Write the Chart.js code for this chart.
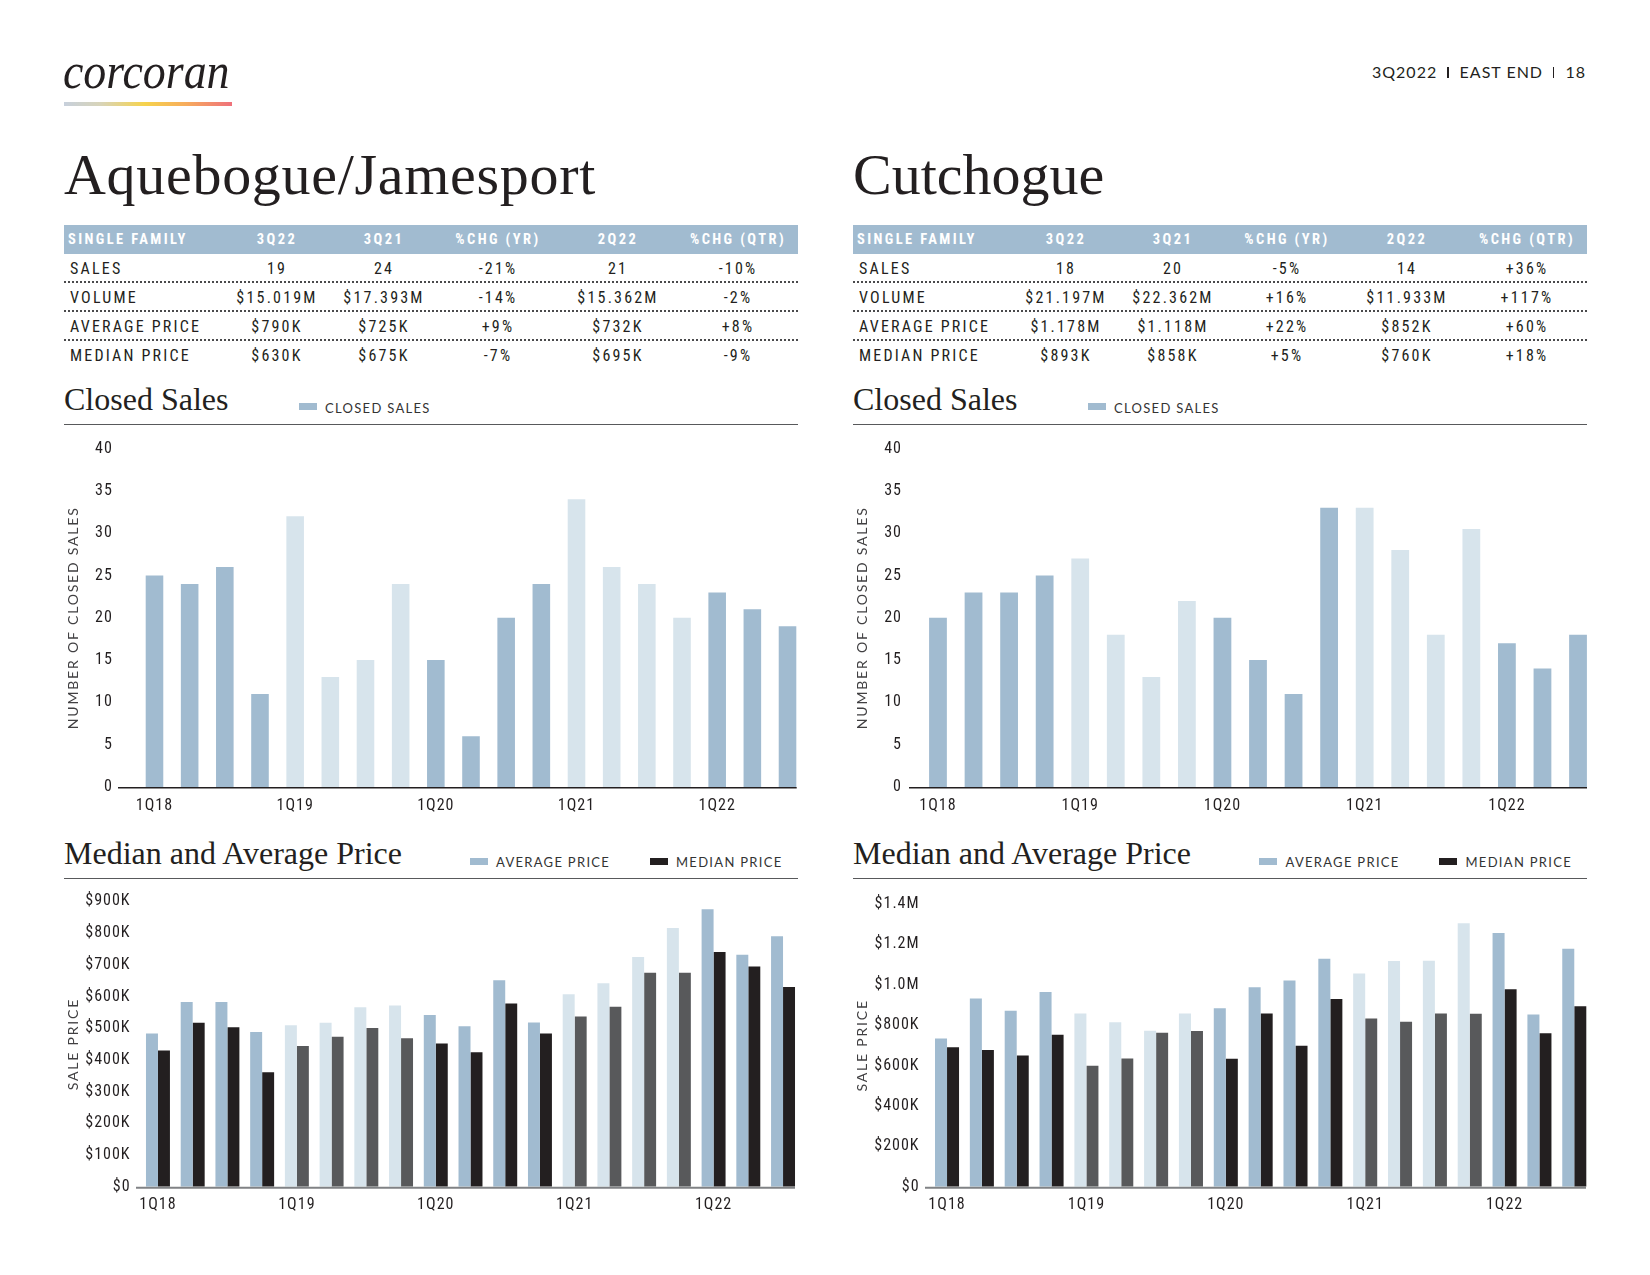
<!DOCTYPE html>
<html>
<head>
<meta charset="utf-8">
<script src="https://cdn.jsdelivr.net/npm/chart.js@4.4.1/dist/chart.umd.min.js"></script>
<style>
html,body{margin:0;padding:0;background:#fff;}
body{width:1650px;height:1275px;position:relative;overflow:hidden;color:#231f20;font-family:'Roboto Condensed','Liberation Sans Narrow','Liberation Sans',sans-serif;}
.abs{position:absolute;white-space:nowrap;}
.serif{font-family:'Liberation Serif',serif;line-height:1;}
.logo{left:63px;top:45.6px;font-size:51px;font-style:italic;transform:scaleX(0.9);transform-origin:0 0;}
.grad{left:64px;top:102px;width:168px;height:4px;background:linear-gradient(to right,#c7d0dc 0%,#d8d4b8 22%,#f6d34c 48%,#f7ad5c 72%,#ef717b 100%);}
.hdr{right:64px;top:64px;font-family:Lato,sans-serif;font-size:16px;line-height:1;letter-spacing:1px;}
.sep{display:inline-block;width:1.4px;height:11.5px;background:#231f20;margin:0 11px 0 10px;vertical-align:baseline;}
.title{font-size:58px;top:146.4px;}
.sec{font-size:32px;}
.tbl{top:225px;width:734px;}
.row{display:grid;grid-template-columns:159.5px 107px 107px 121px 119px 121px;height:29px;box-sizing:border-box;}
.row div{text-align:center;}
.row div:first-child{text-align:left;}
.head{background:#a1bbd0;color:#fff;font-weight:bold;font-size:14.5px;letter-spacing:2.4px;line-height:29px;}
.head div:first-child{padding-left:4px;}
.body{font-size:16px;letter-spacing:2.2px;line-height:27px;padding-top:1px;border-bottom:2px dotted #4a4a4c;}
.body.last{border-bottom:none;}
.body div:first-child{padding-left:6px;}
.rule{height:1.5px;background:#58595b;width:734px;}
.sw{height:6.5px;width:18px;}
.leg{font-family:Lato,sans-serif;font-size:13px;line-height:1;letter-spacing:1.3px;color:#333;}
canvas{position:absolute;}
</style>
</head>
<body>
<div class="abs serif logo">corcoran</div>
<div class="abs grad"></div>
<div class="abs hdr">3Q2022<span class="sep"></span>EAST END<span class="sep"></span>18</div>

<div class="abs serif title" style="left:64px;letter-spacing:0.7px">Aquebogue/Jamesport</div>
<div class="abs serif title" style="left:853px">Cutchogue</div>

<div class="abs tbl" id="tblL" style="left:64px"></div>
<div class="abs tbl" id="tblR" style="left:853px"></div>

<!-- Closed sales headers -->
<div class="abs serif sec" style="left:64px;top:383.2px">Closed Sales</div>
<div class="abs sw" style="left:299px;top:403px;background:#a1bbd0"></div>
<div class="abs leg" style="left:325px;top:401.5px">CLOSED SALES</div>
<div class="abs rule" style="left:64px;top:423.5px"></div>

<div class="abs serif sec" style="left:853px;top:383.2px">Closed Sales</div>
<div class="abs sw" style="left:1088px;top:403px;background:#a1bbd0"></div>
<div class="abs leg" style="left:1114px;top:401.5px">CLOSED SALES</div>
<div class="abs rule" style="left:853px;top:423.5px"></div>

<!-- Price headers -->
<div class="abs serif sec" style="left:64px;top:837.2px">Median and Average Price</div>
<div class="abs sw" style="left:469.5px;top:858px;background:#a1bbd0"></div>
<div class="abs leg" style="left:496px;top:855.6px">AVERAGE PRICE</div>
<div class="abs sw" style="left:649.5px;top:858px;background:#231f20"></div>
<div class="abs leg" style="left:676px;top:855.6px">MEDIAN PRICE</div>
<div class="abs rule" style="left:64px;top:877.5px"></div>

<div class="abs serif sec" style="left:853px;top:837.2px">Median and Average Price</div>
<div class="abs sw" style="left:1259px;top:858px;background:#a1bbd0"></div>
<div class="abs leg" style="left:1285.5px;top:855.6px">AVERAGE PRICE</div>
<div class="abs sw" style="left:1439px;top:858px;background:#231f20"></div>
<div class="abs leg" style="left:1465.5px;top:855.6px">MEDIAN PRICE</div>
<div class="abs rule" style="left:853px;top:877.5px"></div>

<canvas id="closedL" width="745" height="390" style="left:64px;top:430px"></canvas>
<canvas id="closedR" width="745" height="390" style="left:853px;top:430px"></canvas>
<canvas id="priceL" width="745" height="345" style="left:64px;top:880px"></canvas>
<canvas id="priceR" width="745" height="345" style="left:853px;top:880px"></canvas>

<script>
// ---------- DATA ----------
const tableCols = ['SINGLE FAMILY', '3Q22', '3Q21', '%CHG (YR)', '2Q22', '%CHG (QTR)'];
const rowLabels = ['SALES', 'VOLUME', 'AVERAGE PRICE', 'MEDIAN PRICE'];
const aqSales  = ['19', '24', '-21%', '21', '-10%'];
const aqVolume = ['$15.019M', '$17.393M', '-14%', '$15.362M', '-2%'];
const aqAvgRow = ['$790K', '$725K', '+9%', '$732K', '+8%'];
const aqMedRow = ['$630K', '$675K', '-7%', '$695K', '-9%'];
const cuSales  = ['18', '20', '-5%', '14', '+36%'];
const cuVolume = ['$21.197M', '$22.362M', '+16%', '$11.933M', '+117%'];
const cuAvgRow = ['$1.178M', '$1.118M', '+22%', '$852K', '+60%'];
const cuMedRow = ['$893K', '$858K', '+5%', '$760K', '+18%'];

const quarters = ['1Q18','2Q18','3Q18','4Q18','1Q19','2Q19','3Q19','4Q19','1Q20','2Q20','3Q20','4Q20','1Q21','2Q21','3Q21','4Q21','1Q22','2Q22','3Q22'];
const closedTicks = ['0','5','10','15','20','25','30','35','40'];
const aqPriceTicks = ['$0','$100K','$200K','$300K','$400K','$500K','$600K','$700K','$800K','$900K'];
const cuPriceTicks = ['$0','$200K','$400K','$600K','$800K','$1.0M','$1.2M','$1.4M'];

const aqClosed = [25, 24, 26, 11, 32, 13, 15, 24, 15, 6, 20, 24, 34, 26, 24, 20, 23, 21, 19];
const cuClosed = [20, 23, 23, 25, 27, 18, 13, 22, 20, 15, 11, 33, 33, 28, 18, 30.5, 17, 14, 18];

const aqAvg = [483000, 583000, 583000, 488000, 509000, 517000, 566000, 572000, 542000, 506000, 651000, 518000, 607000, 642000, 725000, 816000, 875000, 732000, 790000];
const aqMed = [430000, 517000, 503000, 361000, 444000, 473000, 501000, 468000, 452000, 424000, 578000, 483000, 537000, 568000, 675000, 675000, 740000, 695000, 630000];
const cuAvg = [734000, 932000, 871000, 964000, 858000, 814000, 772000, 858000, 883000, 987000, 1021000, 1129000, 1056000, 1117000, 1118000, 1304000, 1256000, 852000, 1178000];
const cuMed = [690000, 677000, 649000, 752000, 599000, 635000, 762000, 771000, 634000, 858000, 698000, 929000, 833000, 817000, 858000, 856000, 977000, 760000, 893000];

// ---------- TABLES ----------
function buildTable(el, rows) {
  let h = '<div class="row head">' + tableCols.map(c => '<div>' + c + '</div>').join('') + '</div>';
  rows.forEach((r, i) => {
    h += '<div class="row body' + (i === rows.length - 1 ? ' last' : '') + '"><div>' + rowLabels[i] + '</div>' +
      r.map(v => '<div>' + v + '</div>').join('') + '</div>';
  });
  document.getElementById(el).innerHTML = h;
}
buildTable('tblL', [aqSales, aqVolume, aqAvgRow, aqMedRow]);
buildTable('tblR', [cuSales, cuVolume, cuAvgRow, cuMedRow]);

// ---------- CHARTS ----------
const DARK_BLUE = '#a1bbd0', LIGHT_BLUE = '#d7e4ec', BLACK = '#231f20', GREY = '#58595b';
const NARROW = "'Roboto Condensed', 'Liberation Sans Narrow', 'Liberation Sans', sans-serif";
const yearColors = (a, b) => quarters.map((q, i) => Math.floor(i / 4) % 2 === 0 ? a : b);

// wider letter spacing for axis titles only
if (Chart.Scale && Chart.Scale.prototype.drawTitle) {
  const origDrawTitle = Chart.Scale.prototype.drawTitle;
  Chart.Scale.prototype.drawTitle = function () {
    const ctx = this.ctx, prev = ctx.letterSpacing;
    ctx.letterSpacing = '1.8px';
    origDrawTitle.apply(this, arguments);
    ctx.letterSpacing = prev;
  };
}
const spacingPlugin = {
  id: 'spacing',
  beforeUpdate(c) { c.ctx.letterSpacing = '1px'; },
  beforeDraw(c) { c.ctx.letterSpacing = '1px'; }
};
const baseLinePlugin = {
  id: 'baseLine',
  afterDatasetsDraw(c, args, o) {
    const a = c.chartArea, ctx = c.ctx;
    ctx.save();
    ctx.strokeStyle = o.color; ctx.lineWidth = o.width;
    const y = a.bottom + o.width / 2;
    ctx.beginPath(); ctx.moveTo(a.left - o.extL, y); ctx.lineTo(a.right - o.extR, y); ctx.stroke();
    ctx.restore();
  }
};

function makeChart(id, cfg) {
  const W = 745;
  return new Chart(document.getElementById(id), {
    type: 'bar',
    data: { labels: quarters, datasets: cfg.datasets },
    plugins: [spacingPlugin, baseLinePlugin],
    options: {
      responsive: false, animation: false, devicePixelRatio: 1,
      layout: { padding: { left: 0, top: cfg.area.top, right: W - cfg.area.right, bottom: 0 } },
      plugins: {
        legend: { display: false }, tooltip: { enabled: false },
        baseLine: cfg.line
      },
      scales: {
        x: {
          offset: true,
          grid: { display: false, drawTicks: false }, border: { display: false },
          ticks: {
            autoSkip: false, maxRotation: 0, minRotation: 0, padding: cfg.xPad,
            color: '#231f20', font: { family: NARROW, size: 16 },
            callback: function (v, i) { const l = quarters[i]; return l.startsWith('1Q') ? l : ''; }
          },
          afterFit(s) { s.height = cfg.H - cfg.area.bottom; }
        },
        y: {
          min: 0, max: cfg.max,
          grid: { display: false, drawTicks: true, tickLength: cfg.tickGap - 6 }, border: { display: false },
          ticks: {
            stepSize: cfg.step, autoSkip: false, padding: 6,
            color: '#231f20', font: { family: NARROW, size: 16 },
            callback: (v, i) => cfg.ticks[i]
          },
          title: {
            display: true, text: cfg.title, color: '#414042',
            font: { family: 'Lato', size: 14 }, padding: { top: 0.6, bottom: 0 }
          },
          afterFit(s) { s.width = cfg.area.left; }
        }
      }
    }
  });
}

function closedDataset(values) {
  return [{ data: values, backgroundColor: yearColors(DARK_BLUE, LIGHT_BLUE), barPercentage: 0.5, categoryPercentage: 1 }];
}
function priceDatasets(avg, med) {
  return [
    { label: 'AVERAGE PRICE', data: avg, backgroundColor: yearColors(DARK_BLUE, LIGHT_BLUE), barPercentage: 1, categoryPercentage: 0.69 },
    { label: 'MEDIAN PRICE', data: med, backgroundColor: yearColors(BLACK, GREY), barPercentage: 1, categoryPercentage: 0.69 }
  ];
}

makeChart('closedL', {
  datasets: closedDataset(aqClosed), max: 40, step: 5, ticks: closedTicks,
  title: 'NUMBER OF CLOSED SALES', H: 390,
  area: { top: 18.6, bottom: 357, left: 72.9, right: 741.1 },
  tickGap: 24, xPad: 9.4,
  line: { color: '#231f20', width: 1.5, extL: 18.9, extR: 8.4 }
});
makeChart('closedR', {
  datasets: closedDataset(cuClosed), max: 40, step: 5, ticks: closedTicks,
  title: 'NUMBER OF CLOSED SALES', H: 390,
  area: { top: 18.6, bottom: 357, left: 67.2, right: 742.8 },
  tickGap: 18.2, xPad: 9.4,
  line: { color: '#231f20', width: 1.5, extL: 11.2, extR: 8.8 }
});
makeChart('priceL', {
  datasets: priceDatasets(aqAvg, aqMed), max: 900000, step: 100000, ticks: aqPriceTicks,
  title: 'SALE PRICE', H: 345,
  area: { top: 21.4, bottom: 306.7, left: 76.6, right: 736.4 },
  tickGap: 10, xPad: 8.7,
  line: { color: '#808285', width: 2, extL: 4.6, extR: 5.4 }
});
makeChart('priceR', {
  datasets: priceDatasets(cuAvg, cuMed), max: 1400000, step: 200000, ticks: cuPriceTicks,
  title: 'SALE PRICE', H: 345,
  area: { top: 23.9, bottom: 306.7, left: 76.6, right: 738.7 },
  tickGap: 10, xPad: 8.7,
  line: { color: '#808285', width: 2, extL: 4.6, extR: 5.7 }
});
</script>
</body>
</html>
